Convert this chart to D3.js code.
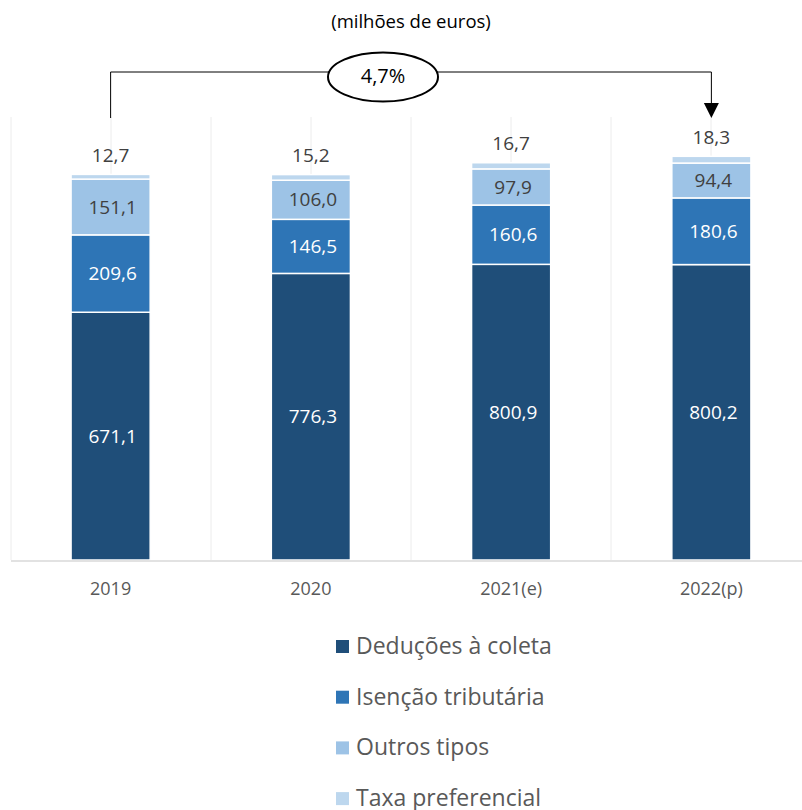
<!DOCTYPE html>
<html>
<head>
<meta charset="utf-8">
<script src="https://cdn.jsdelivr.net/npm/d3@7"></script>
<style>
  body { margin: 0; background: #fff; }
  text { font-family: "Open Sans", "DejaVu Sans", sans-serif; }
</style>
</head>
<body>
<svg id="canvas" width="802" height="810"></svg>
<script>
var years = ["2019", "2020", "2021(e)", "2022(p)"];
var series = ["Deduções à coleta", "Isenção tributária", "Outros tipos", "Taxa preferencial"];
var deducoes = [671.1, 776.3, 800.9, 800.2];
var isencao = [209.6, 146.5, 160.6, 180.6];
var outros = [151.1, 106.0, 97.9, 94.4];
var taxa = [12.7, 15.2, 16.7, 18.3];
var colors = ["#1f4e79", "#2e75b6", "#9dc3e6", "#bdd7ee"];
var labelColors = ["#fff", "#fff", "#404040", "#404040"];
var growth = "4,7%";

var fmt = function(v) { return v.toFixed(1).replace(".", ","); };

var svg = d3.select("#canvas");

var xScale = d3.scaleBand()
  .domain(years)
  .range([11, 811])
  .paddingInner(0.605)
  .paddingOuter(0.3);

var yScale = d3.scaleLinear()
  .domain([0, 1200])
  .range([560, 117]);

// vertical gridlines
var gridX = d3.range(0, 8).map(function(i) { return 11 + i * 100; });
svg.selectAll(".grid")
  .data(gridX)
  .enter().append("line")
  .attr("x1", function(d) { return d; })
  .attr("x2", function(d) { return d; })
  .attr("y1", 117)
  .attr("y2", 560)
  .attr("stroke", "#ececec")
  .attr("stroke-width", 1);

// stack
var rows = years.map(function(y, i) {
  return { year: y, s0: deducoes[i], s1: isencao[i], s2: outros[i], s3: taxa[i] };
});
var stack = d3.stack().keys(["s0", "s1", "s2", "s3"]);
var layers = stack(rows);

var g = svg.selectAll(".layer")
  .data(layers)
  .enter().append("g")
  .attr("fill", function(d, i) { return colors[i]; });

g.selectAll("rect")
  .data(function(d) { return d; })
  .enter().append("rect")
  .attr("x", function(d) { return xScale(d.data.year); })
  .attr("width", xScale.bandwidth())
  .attr("y", function(d) { return yScale(d[1]); })
  .attr("height", function(d) { return yScale(d[0]) - yScale(d[1]); })
  .attr("stroke", "#fff")
  .attr("stroke-width", 1.5);

// labels inside segments (first three series), last one above the bar
layers.forEach(function(layer, li) {
  svg.selectAll(".lbl" + li)
    .data(layer)
    .enter().append("text")
    .attr("x", function(d) { return xScale(d.data.year) + xScale.bandwidth() / 2 + (li < 3 ? 2 : 0); })
    .attr("y", function(d) {
      return li < 3 ? (yScale(d[0]) + yScale(d[1])) / 2 : yScale(d[1]) - 19;
    })
    .attr("dy", "0.35em")
    .attr("text-anchor", "middle")
    .attr("font-size", "19px")
    .attr("fill", labelColors[li])
    .text(function(d) { return fmt(d[1] - d[0]); });
});

// x axis
svg.append("line")
  .attr("x1", 11).attr("x2", 802)
  .attr("y1", 561).attr("y2", 561)
  .attr("stroke", "#d9d9d9")
  .attr("stroke-width", 1.5);

svg.selectAll(".xlab")
  .data(years)
  .enter().append("text")
  .attr("x", function(d) { return xScale(d) + xScale.bandwidth() / 2; })
  .attr("y", 589)
  .attr("dy", "0.35em")
  .attr("text-anchor", "middle")
  .attr("font-size", "18px")
  .attr("fill", "#595959")
  .text(function(d) { return d; });

// title
svg.append("text")
  .attr("x", 411).attr("y", 22)
  .attr("dy", "0.35em")
  .attr("text-anchor", "middle")
  .attr("font-size", "18.5px")
  .attr("fill", "#000")
  .text("(milhões de euros)");

// growth bracket
var xA = xScale(years[0]) + xScale.bandwidth() / 2;
var xB = xScale(years[3]) + xScale.bandwidth() / 2;
var yTop = 72;

svg.append("path")
  .attr("d", "M" + xA + ",118 V" + yTop + " H" + xB + " V" + 110)
  .attr("fill", "none")
  .attr("stroke", "#000")
  .attr("stroke-width", 1);

svg.append("path")
  .attr("d", "M" + (xB - 7.5) + ",103 L" + (xB + 7.5) + ",103 L" + xB + ",118 Z")
  .attr("fill", "#000");

svg.append("ellipse")
  .attr("cx", 383).attr("cy", 77)
  .attr("rx", 55).attr("ry", 24.5)
  .attr("fill", "#fff")
  .attr("stroke", "#000")
  .attr("stroke-width", 2);

svg.append("text")
  .attr("x", 383).attr("y", 76)
  .attr("dy", "0.35em")
  .attr("text-anchor", "middle")
  .attr("font-size", "20px")
  .attr("fill", "#000")
  .text(growth);

// legend
var legend = svg.selectAll(".legend")
  .data(series)
  .enter().append("g")
  .attr("transform", function(d, i) { return "translate(336," + (646 + i * 50.7) + ")"; });

legend.append("rect")
  .attr("x", 0).attr("y", -6)
  .attr("width", 13).attr("height", 13)
  .attr("fill", function(d, i) { return colors[i]; });

legend.append("text")
  .attr("x", 20).attr("y", 0)
  .attr("dy", "0.35em")
  .attr("font-size", "23px")
  .attr("fill", "#595959")
  .text(function(d) { return d; });
</script>
</body>
</html>
